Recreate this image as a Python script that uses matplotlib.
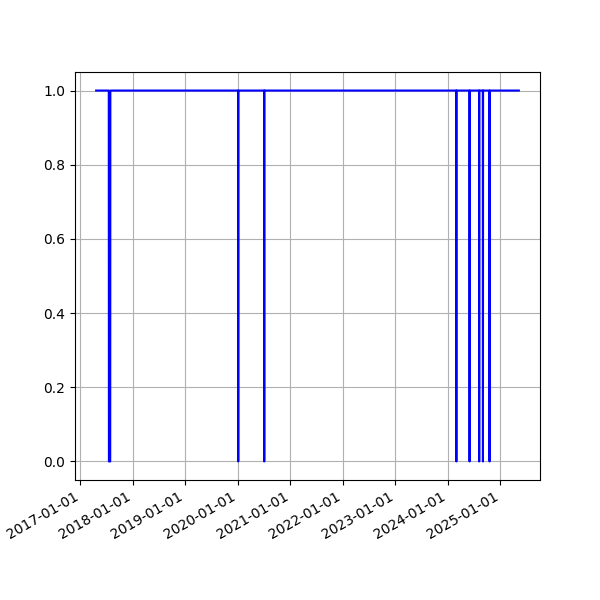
import pandas as pd
import matplotlib
matplotlib.use("Agg")
import matplotlib.pyplot as plt
import matplotlib.dates as mdates

# status series: 1 = up, 0 = down
dates = ["2017-04-20",
         "2017-07-17", "2017-07-18", "2017-07-27", "2017-07-28",
         "2020-01-03", "2020-01-04", "2020-01-05",
         "2020-07-02", "2020-07-03", "2020-07-04",
         "2024-02-29", "2024-03-01", "2024-03-02",
         "2024-05-31", "2024-06-01", "2024-06-02",
         "2024-08-06", "2024-08-07", "2024-08-08",
         "2024-09-01", "2024-09-02", "2024-09-03",
         "2024-10-17", "2024-10-18", "2024-10-19",
         "2025-05-10"]
values = [1,
          1, 0, 0, 1,
          1, 0, 1,
          1, 0, 1,
          1, 0, 1,
          1, 0, 1,
          1, 0, 1,
          1, 0, 1,
          1, 0, 1,
          1]

x = pd.to_datetime(dates)

fig, ax = plt.subplots(figsize=(6, 6), dpi=100)
ax.plot(x, values, color="blue", linewidth=1.5)
ax.xaxis.set_major_locator(mdates.YearLocator())
ax.xaxis.set_major_formatter(mdates.DateFormatter("%Y-%m-%d"))
ax.grid(True)
fig.autofmt_xdate()

plt.savefig("out.png")
